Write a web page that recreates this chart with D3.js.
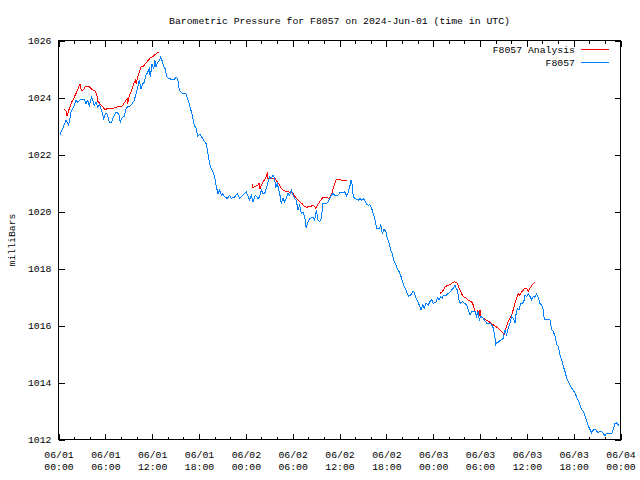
<!DOCTYPE html>
<html><head><meta charset="utf-8">
<script src="https://cdn.jsdelivr.net/npm/d3@7"></script>
<style>
body{margin:0;background:#fff}
svg{display:block}
text{font-family:"Liberation Mono","DejaVu Sans Mono",monospace;font-size:9.8px;fill:#000}
</style>
</head><body>
<svg id="c" width="640" height="480"></svg>
<script>
const chartTitle = "Barometric Pressure for F8057 on 2024-Jun-01 (time in UTC)";
const yLabel = "milliBars";
const seriesNames = ["F8057 Analysis", "F8057"];
const seriesColors = ["#ff0000", "#0080ff"];
const yTicks = [1012, 1014, 1016, 1018, 1020, 1022, 1024, 1026];
const startTime = Date.UTC(2024, 5, 1, 0, 0);
const spanHours = 72;

// Observed station pressure (hours since 06/01 00:00 UTC, mbar)
const obsHours = [0.19,0.54,0.96,1.31,1.60,2.02,2.24,2.46,2.75,3.31,3.52,3.74,3.95,4.25,4.59,4.80,5.02,5.23,5.53,5.79,6.00,6.21,6.51,6.82,7.02,7.37,7.71,7.92,8.13,8.43,8.65,8.86,9.07,9.42,9.71,9.93,10.15,10.35,10.57,10.79,10.99,11.21,11.43,11.63,11.76,11.98,12.20,12.36,12.49,12.71,12.91,13.09,13.26,13.43,13.68,13.86,14.19,14.63,14.83,15.05,15.27,15.48,15.82,16.33,16.55,16.76,16.97,17.19,17.40,17.61,17.83,18.13,18.73,18.93,19.15,19.37,19.57,19.79,20.01,20.22,20.43,20.65,20.86,21.07,21.29,21.62,21.93,22.14,22.57,22.91,23.21,23.64,24.06,24.49,24.70,24.92,25.21,25.56,25.77,25.98,26.20,26.42,26.62,26.84,27.06,27.26,27.48,27.70,27.82,28.03,28.34,28.54,28.76,28.98,29.18,29.40,29.62,29.82,30.04,30.26,30.46,30.68,30.90,31.10,31.32,31.54,31.74,31.96,32.18,32.60,32.82,33.03,33.24,33.46,33.67,33.88,34.31,34.52,34.74,34.95,35.16,35.38,35.81,36.02,36.45,36.70,36.92,37.13,37.34,37.47,37.60,37.77,37.98,38.41,38.62,38.84,39.05,39.26,39.48,39.69,39.90,40.12,40.33,40.55,40.76,41.10,41.28,41.48,41.70,41.92,42.12,42.38,42.56,42.81,43.02,43.24,43.45,43.66,43.88,44.09,44.30,44.52,44.68,44.86,45.12,45.38,45.54,45.80,46.02,46.22,46.44,46.66,46.86,47.08,47.37,47.59,47.81,48.01,48.45,48.53,48.74,48.96,49.17,49.30,49.73,49.94,50.15,50.37,50.58,50.79,50.92,51.09,51.22,51.35,51.52,51.78,51.95,52.07,52.29,52.50,52.72,52.93,53.14,53.36,53.57,53.78,53.91,54.09,54.34,54.55,54.85,55.28,55.50,55.70,55.92,56.01,56.14,56.34,56.56,56.78,56.98,57.20,57.42,57.62,57.84,58.06,58.26,58.48,58.61,58.78,58.99,59.21,59.47,59.67,59.76,59.98,60.18,60.40,60.62,60.82,61.04,61.26,61.47,61.68,61.90,62.11,62.23,62.54,62.96,63.18,63.39,63.61,63.82,64.03,64.25,64.46,64.67,64.89,65.10,65.31,65.53,65.74,65.95,66.17,66.38,66.59,66.81,67.02,67.23,67.45,67.66,67.87,68.09,68.30,68.51,68.73,68.95,69.15,69.37,69.59,69.80,70.01,70.23,70.65,70.87,71.07,71.29,71.51,71.68,71.85];
const obsPressure = [1022.70,1022.91,1023.20,1023.03,1023.49,1023.72,1023.90,1023.84,1023.92,1023.92,1023.79,1023.90,1023.72,1024.02,1023.72,1023.84,1023.67,1023.75,1023.55,1023.26,1023.43,1023.43,1023.14,1023.14,1023.31,1023.49,1023.43,1023.14,1023.29,1023.34,1023.61,1023.67,1023.67,1023.78,1023.90,1024.13,1024.37,1024.60,1024.31,1024.48,1024.54,1024.78,1024.89,1025.00,1024.72,1025.18,1025.00,1025.30,1025.07,1025.24,1025.30,1025.42,1025.30,1025.12,1025.00,1024.72,1024.66,1024.63,1024.63,1024.72,1024.66,1024.25,1024.16,1024.14,1023.96,1023.78,1023.55,1023.32,1023.02,1022.94,1022.64,1022.71,1022.44,1022.38,1022.03,1021.68,1021.51,1021.39,1021.22,1020.87,1020.63,1020.75,1020.57,1020.63,1020.51,1020.46,1020.57,1020.46,1020.51,1020.63,1020.46,1020.57,1020.69,1020.40,1020.57,1020.34,1020.57,1020.46,1020.51,1020.75,1020.63,1020.63,1020.81,1021.04,1021.22,1021.16,1021.27,1021.16,1020.81,1020.98,1020.63,1020.28,1020.46,1020.34,1020.46,1020.63,1020.57,1020.75,1020.57,1020.46,1020.40,1020.05,1020.22,1019.93,1019.99,1019.82,1019.41,1019.64,1019.76,1019.79,1019.70,1020.05,1019.70,1019.64,1019.76,1020.28,1020.28,1020.34,1020.46,1020.57,1020.63,1020.57,1020.57,1020.66,1020.66,1020.69,1020.54,1020.69,1020.90,1021.10,1020.98,1020.51,1020.46,1020.40,1020.46,1020.40,1020.46,1020.38,1020.26,1020.22,1020.24,1020.11,1019.93,1019.70,1019.41,1019.41,1019.53,1019.23,1019.37,1019.32,1019.06,1018.88,1018.65,1018.47,1018.24,1018.12,1017.95,1017.89,1017.72,1017.54,1017.37,1017.25,1017.13,1017.02,1017.07,1017.19,1017.19,1016.96,1016.84,1016.72,1016.55,1016.72,1016.61,1016.78,1016.72,1016.84,1016.90,1016.78,1016.84,1016.99,1016.90,1017.02,1016.96,1017.07,1017.07,1017.13,1017.16,1017.25,1017.31,1017.42,1017.31,1017.25,1017.07,1016.84,1016.78,1016.84,1016.78,1016.78,1016.72,1016.55,1016.37,1016.49,1016.49,1016.49,1016.32,1016.49,1016.18,1016.32,1016.27,1016.20,1016.08,1016.08,1016.02,1015.91,1015.56,1015.33,1015.41,1015.41,1015.47,1015.50,1015.56,1015.85,1015.68,1015.91,1016.08,1016.32,1016.26,1016.08,1016.38,1016.61,1016.55,1016.78,1016.78,1016.90,1017.07,1017.02,1017.11,1017.02,1016.90,1017.02,1016.99,1017.11,1016.96,1016.78,1016.72,1016.55,1016.20,1016.20,1016.20,1015.85,1015.79,1015.62,1015.33,1015.27,1014.97,1014.80,1014.57,1014.39,1014.16,1014.04,1013.92,1013.81,1013.72,1013.63,1013.49,1013.38,1013.22,1013.05,1013.00,1012.82,1012.64,1012.47,1012.35,1012.24,1012.33,1012.37,1012.29,1012.24,1012.29,1012.29,1012.21,1012.14,1012.21,1012.21,1012.21,1012.35,1012.56,1012.58,1012.52,1012.47];

// Analysis pressure (null = gap between analysis runs)
const anaHours = [0.74,0.96,1.09,1.31,1.47,1.69,1.90,2.11,2.33,2.54,2.75,2.92,3.18,3.43,3.74,3.95,4.16,4.38,4.68,4.89,5.02,5.23,5.44,5.66,5.96,6.30,6.73,7.15,7.58,8.01,8.22,8.43,8.65,8.78,8.86,9.07,9.29,9.51,9.71,9.84,9.97,10.15,10.35,10.57,10.86,11.12,11.43,11.76,12.14,12.49,12.79,
  null,
  24.79,24.92,25.21,25.56,25.68,25.81,25.98,26.20,26.42,26.62,26.75,26.84,27.06,27.48,27.77,28.03,28.34,28.54,28.89,29.40,29.82,30.04,30.26,30.55,30.90,31.19,31.54,31.74,32.18,32.38,32.60,32.82,32.95,33.15,33.46,33.67,33.88,34.31,34.61,34.82,35.04,35.20,35.38,35.59,35.90,36.32,36.96,
  null,
  48.87,49.09,49.30,49.51,49.73,50.06,50.37,50.67,51.01,51.22,51.43,51.65,51.86,52.20,52.50,52.80,53.06,53.23,53.45,53.57,53.70,53.87,54.00,54.12,54.34,54.55,54.85,55.28,55.70,56.14,56.56,56.90,57.07,57.24,57.42,57.62,57.84,58.06,58.26,58.48,58.70,58.90,59.03,59.21,59.47,59.76,59.98,60.18,60.40,60.62,60.82,61.00];
const anaPressure = [1023.58,1023.53,1023.34,1023.55,1023.67,1023.84,1023.92,1024.07,1024.19,1024.33,1024.48,1024.25,1024.27,1024.37,1024.40,1024.37,1024.31,1024.27,1024.23,1024.13,1023.87,1023.81,1023.73,1023.67,1023.58,1023.61,1023.61,1023.63,1023.67,1023.67,1023.73,1023.81,1023.90,1023.96,1023.78,1024.07,1024.19,1024.37,1024.54,1024.60,1024.48,1024.72,1024.89,1025.07,1025.09,1025.18,1025.28,1025.39,1025.45,1025.53,1025.59,
  null,
  1020.95,1020.84,1020.89,1020.92,1021.00,1020.80,1020.92,1021.04,1021.12,1021.22,1021.37,1021.16,1021.16,1021.16,1021.16,1021.04,1020.92,1020.81,1020.73,1020.69,1020.67,1020.63,1020.54,1020.43,1020.34,1020.28,1020.17,1020.15,1020.17,1020.19,1020.22,1020.17,1020.11,1020.22,1020.34,1020.42,1020.49,1020.49,1020.46,1020.51,1020.63,1020.81,1020.98,1021.12,1021.12,1021.10,1021.10,
  null,
  1017.13,1017.16,1017.25,1017.34,1017.39,1017.42,1017.48,1017.53,1017.52,1017.39,1017.25,1017.11,1017.02,1016.96,1016.88,1016.85,1016.78,1016.61,1016.43,1016.34,1016.53,1016.34,1016.53,1016.30,1016.27,1016.23,1016.18,1016.11,1016.02,1015.94,1015.85,1015.76,1015.67,1015.85,1015.97,1016.14,1016.26,1016.38,1016.55,1016.78,1016.96,1017.11,1017.04,1017.13,1017.22,1017.31,1017.30,1017.19,1017.31,1017.39,1017.48,1017.50];

const toDate = h => new Date(startTime + h * 3600e3);
const svg = d3.select("#c");
const L = 58.5, R = 620.5, T = 40.5, B = 439.5;

const x = d3.scaleUtc().domain([toDate(0), toDate(spanHours)]).range([L, R]);
const y = d3.scaleLinear().domain([yTicks[0], yTicks[yTicks.length - 1]]).range([B, T]);

const xTickVals = d3.range(0, spanHours + 1, 2).map(toDate);
const isMajor = d => d.getUTCHours() % 6 === 0;
const fmtDay = d3.utcFormat("%m/%d"), fmtTime = d3.utcFormat("%H:%M");

// bottom axis
const gx = svg.append("g").attr("transform", `translate(0,${B})`)
  .call(d3.axisBottom(x).tickValues(xTickVals).tickSizeInner(-5).tickSizeOuter(0).tickFormat(() => ""));
gx.select(".domain").remove();
gx.selectAll(".tick line").attr("y2", d => isMajor(d) ? -6 : -3).attr("stroke", "#000").attr("shape-rendering", "crispEdges");
gx.selectAll(".tick text").each(function (d) {
  const t = d3.select(this).attr("y", null).attr("dy", null);
  if (!isMajor(d)) { t.remove(); return; }
  t.append("tspan").attr("x", 0).attr("y", 18.5).text(fmtDay(d));
  t.append("tspan").attr("x", 0).attr("y", 30.5).text(fmtTime(d));
});

// top axis (mirror ticks)
const gt = svg.append("g").attr("transform", `translate(0,${T})`)
  .call(d3.axisTop(x).tickValues(xTickVals).tickSizeInner(-5).tickSizeOuter(0).tickFormat(() => ""));
gt.select(".domain").remove();
gt.selectAll(".tick text").remove();
gt.selectAll(".tick line").attr("y2", d => isMajor(d) ? 6 : 3).attr("stroke", "#000").attr("shape-rendering", "crispEdges");

// left axis
const gy = svg.append("g").attr("transform", `translate(${L},0)`)
  .call(d3.axisLeft(y).tickValues(yTicks).tickSizeInner(-6).tickSizeOuter(0).tickPadding(7).tickFormat(d3.format("d")));
gy.select(".domain").remove();
gy.selectAll(".tick line").attr("stroke", "#000").attr("shape-rendering", "crispEdges");

// right axis (mirror ticks)
const gr = svg.append("g").attr("transform", `translate(${R},0)`)
  .call(d3.axisRight(y).tickValues(yTicks).tickSizeInner(-6).tickSizeOuter(0).tickFormat(() => ""));
gr.select(".domain").remove();
gr.selectAll(".tick text").remove();
gr.selectAll(".tick line").attr("stroke", "#000").attr("shape-rendering", "crispEdges");

// border
svg.append("rect").attr("x", L).attr("y", T).attr("width", R - L).attr("height", B - T)
  .attr("fill", "none").attr("stroke", "#000").attr("shape-rendering", "crispEdges");

// series
const line = d3.line()
  .defined(d => d[0] !== null && d[1] !== null)
  .x(d => x(toDate(d[0])))
  .y(d => y(d[1]));

const anaData = anaHours.map((h, i) => [h, anaPressure[i]]);
const obsData = obsHours.map((h, i) => [h, obsPressure[i]]);

svg.append("path").datum(anaData).attr("d", line)
  .attr("fill", "none").attr("stroke", seriesColors[0]).attr("stroke-width", 1).attr("shape-rendering", "crispEdges");
svg.append("path").datum(obsData).attr("d", line)
  .attr("fill", "none").attr("stroke", seriesColors[1]).attr("stroke-width", 1).attr("shape-rendering", "crispEdges");

// title & axis label
svg.append("text").attr("x", (L + R) / 2).attr("y", 24).attr("text-anchor", "middle").text(chartTitle);
svg.append("text").attr("transform", "translate(14.5,240) rotate(-90)").attr("text-anchor", "middle").text(yLabel);

// legend
const legend = svg.append("g");
seriesNames.forEach((name, i) => {
  const cy = 49.5 + i * 13;
  legend.append("text").attr("x", 575).attr("y", cy + 3.5).attr("text-anchor", "end").text(name);
  legend.append("line").attr("x1", 581).attr("x2", 609).attr("y1", cy).attr("y2", cy)
    .attr("stroke", seriesColors[i]).attr("stroke-width", 1).attr("shape-rendering", "crispEdges");
});
</script>
</body></html>
